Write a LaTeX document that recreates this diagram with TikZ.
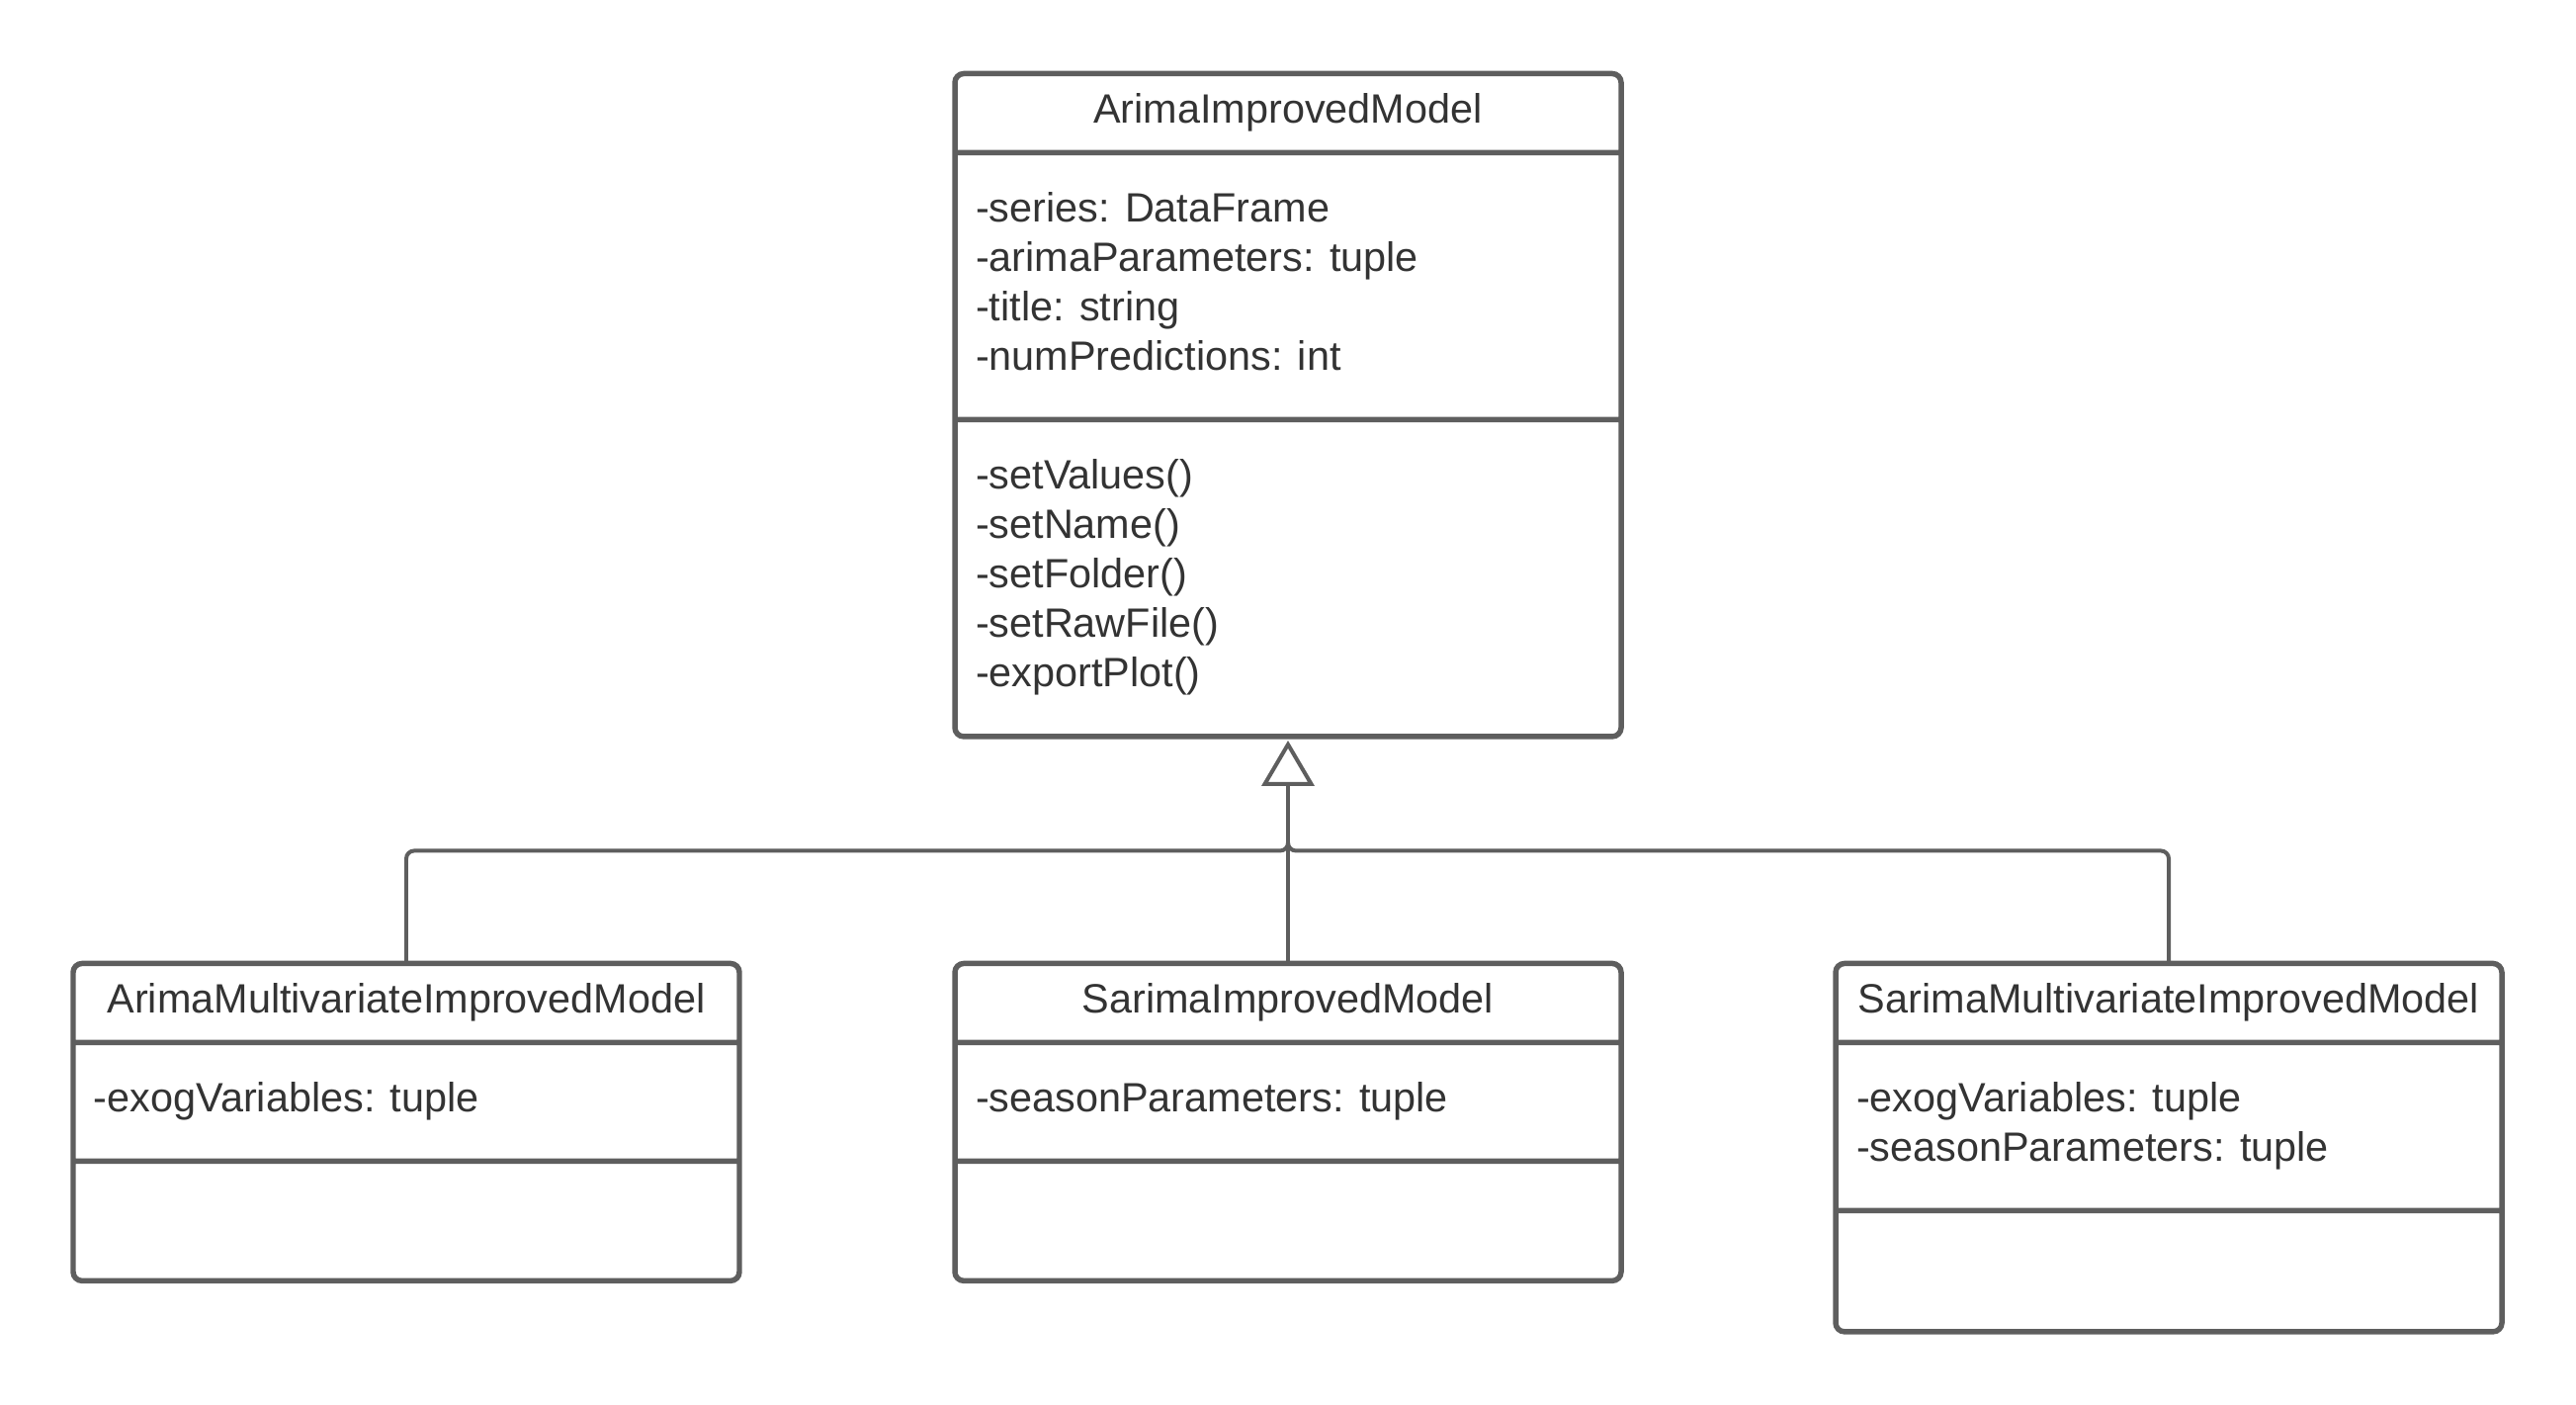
\documentclass[tikz,border=0pt]{standalone}
\usepackage{fontspec}
\setmainfont{Liberation Sans}
\usetikzlibrary{shapes.multipart, positioning, arrows.meta}
\definecolor{umlline}{HTML}{5E5E5E}
\definecolor{umltext}{HTML}{333333}
\newcommand{\umlhead}[1]{\parbox[t][0.745cm][t]{6.74cm}{\centering\rule{0pt}{0.472cm}#1}}
\newcommand{\umlpart}[2]{\parbox[t][#1][t]{6.74cm}{\raggedright\leftskip=0.21cm\rule{0pt}{0.67cm}#2}}

\begin{document}
\begin{tikzpicture}[
    umlclass/.style={rectangle split, rectangle split parts=3, draw=umlline,
        line width=1.56pt, rounded corners=0.09cm, inner sep=0pt, outer sep=0pt,
        text=umltext, font=\fontsize{11.78pt}{14.23pt}\selectfont},
    gen/.style={draw=umlline, line width=1.13pt}
    ]
    \useasboundingbox (0,0) rectangle (26.06,-14.21);

    \node[umlclass, anchor=north] (aim) at (13.03,-0.745) {
        \umlhead{ArimaImprovedModel}
        \nodepart{two}\umlpart{2.645cm}{-series: DataFrame\\ -arimaParameters: tuple\\
            -title: string\\ -numPredictions: int}
        \nodepart{three}\umlpart{3.15cm}{-setValues()\\ -setName()\\ -setFolder()\\
            -setRawFile()\\ -exportPlot()}
    };
    \node[umlclass, below=2.295cm of aim] (sim) {
        \umlhead{SarimaImprovedModel}
        \nodepart{two}\umlpart{1.145cm}{-seasonParameters: tuple}
        \nodepart{three}\umlpart{1.155cm}{}
    };
    \node[umlclass, left=2.18cm of sim.north west, anchor=north east] (amim) {
        \umlhead{ArimaMultivariateImprovedModel}
        \nodepart{two}\umlpart{1.145cm}{-exogVariables: tuple}
        \nodepart{three}\umlpart{1.155cm}{}
    };
    \node[umlclass, right=2.17cm of sim.north east, anchor=north west] (smim) {
        \umlhead{SarimaMultivariateImprovedModel}
        \nodepart{two}\umlpart{1.645cm}{-exogVariables: tuple\\ -seasonParameters: tuple}
        \nodepart{three}\umlpart{1.17cm}{}
    };

    \coordinate[above=1.14cm of sim.north] (fork);
    \coordinate[above=0.685cm of fork] (base);
    \draw[gen, rounded corners=0.08cm] (amim.north) |- (fork) -- (base);
    \draw[gen, rounded corners=0.08cm] (smim.north) |- (fork) -- (base);
    \draw[gen, -{Triangle[fill=white, length=0.46cm, width=0.53cm]}, shorten >=0.04cm]
        (sim.north) -- (aim.south);
\end{tikzpicture}
\end{document}
